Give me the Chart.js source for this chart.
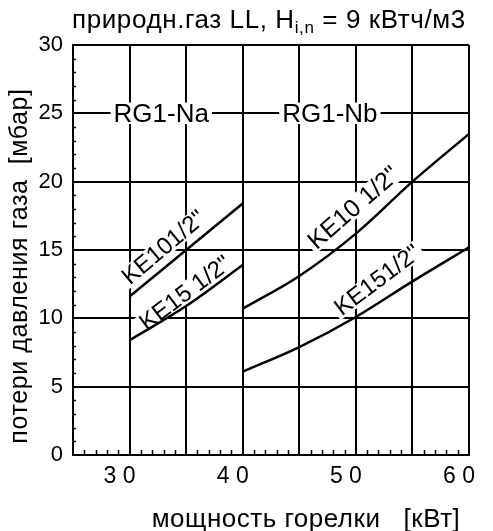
<!DOCTYPE html>
<html>
<head>
<meta charset="utf-8">
<script src="https://cdn.jsdelivr.net/npm/chart.js@4"></script>
<style>
  body { margin: 0; background: #fff; }
  #wrap { width: 493px; height: 531px; }
</style>
</head>
<body>
<div id="wrap"><canvas id="chart" width="493" height="531"></canvas></div>
<script>
// burner power, kW
let xNa = [30, 35, 40];
let xNb = [40, 45, 50, 55, 60];
// gas pressure loss, mbar
let ke10Na = [11.6, 15.0, 18.4];
let ke15Na = [8.4, 10.9, 13.9];
let ke10Nb = [10.7, 13.1, 16.2, 20.0, 23.5];
let ke15Nb = [6.1, 7.9, 10.1, 12.7, 15.2];

let xTicks = [30, 40, 50, 60];
let yTicks = [0, 5, 10, 15, 20, 25, 30];

const FONT = 'Liberation Sans';

// text labels on the plot (data coordinates)
let notes = [
    {text: 'RG1-Na', x: 32.8, y: 25, angle: 0, size: 26},
    {text: 'RG1-Nb', x: 47.7, y: 25, angle: 0, size: 26},
    {text: 'KE101/2"', x: 33.0, y: 15.2, angle: -40, size: 24},
    {text: 'KE15 1/2"', x: 34.9, y: 11.85, angle: -37, size: 24},
    {text: 'KE10 1/2"', x: 49.8, y: 18.1, angle: -41, size: 25},
    {text: 'KE151/2"', x: 51.9, y: 12.8, angle: -37, size: 24}
];

function pts(xs, ys) {
    let out = [];
    for (var i=0; i<xs.length; i++) {
        out.push({x: xs[i], y: ys[i]});
    }
    return out;
}

function curve(xs, ys) {
    return {
        data: pts(xs, ys),
        borderColor: '#000',
        borderWidth: 2.5,
        pointRadius: 0,
        cubicInterpolationMode: 'monotone',
        fill: false
    };
}

const notesPlugin = {
    id: 'notes',
    beforeDatasetsDraw(chart) {
        const ctx = chart.ctx;
        const xs = chart.scales.x, ys = chart.scales.y;
        ctx.save();
        for (const n of notes) {
            const px = xs.getPixelForValue(n.x);
            const py = ys.getPixelForValue(n.y);
            ctx.save();
            ctx.translate(px, py);
            ctx.rotate(n.angle * Math.PI / 180);
            ctx.font = n.size + 'px "' + FONT + '"';
            const w = ctx.measureText(n.text).width;
            const h = n.size * 0.75;
            ctx.fillStyle = '#fff';
            ctx.fillRect(-w/2 - 3, -h/2 - 1, w + 6, h + 2);
            ctx.fillStyle = '#000';
            ctx.textAlign = 'center';
            ctx.textBaseline = 'middle';
            ctx.fillText(n.text, 0, 1);
            ctx.restore();
        }
        ctx.restore();
    }
};

const decorPlugin = {
    id: 'decor',
    afterDraw(chart) {
        const ctx = chart.ctx;
        const a = chart.chartArea;
        const xs = chart.scales.x, ys = chart.scales.y;
        ctx.save();
        // minor ticks
        ctx.strokeStyle = '#000';
        ctx.lineWidth = 1.5;
        ctx.beginPath();
        for (var v=26; v<60; v++) {
            if (v % 5 === 0) continue;
            const p = Math.round(xs.getPixelForValue(v)) + 0.5;
            ctx.moveTo(p, a.bottom);
            ctx.lineTo(p, a.bottom - 5);
        }
        for (var v=1; v<30; v++) {
            if (v % 5 === 0) continue;
            const p = Math.round(ys.getPixelForValue(v)) + 0.5;
            ctx.moveTo(a.left, p);
            ctx.lineTo(a.left + 3, p);
        }
        ctx.stroke();

        ctx.fillStyle = '#000';
        // title with subscript
        const big = '26px "' + FONT + '"';
        const small = '17px "' + FONT + '"';
        const p1 = 'природн.газ LL, H', p2 = 'i,n', p3 = ' = 9 кВтч/м3';
        ctx.letterSpacing = '0.6px';
        ctx.font = big;
        const w1 = ctx.measureText(p1).width;
        ctx.font = small;
        const w2 = ctx.measureText(p2).width;
        let x0 = 72;
        const base = 28;
        ctx.textBaseline = 'alphabetic';
        ctx.textAlign = 'left';
        ctx.font = big;
        ctx.fillText(p1, x0, base);
        ctx.font = small;
        ctx.fillText(p2, x0 + w1, base + 5);
        ctx.font = big;
        ctx.fillText(p3, x0 + w1 + w2, base);

        // x axis title
        ctx.letterSpacing = '0.5px';
        ctx.font = '26px "' + FONT + '"';
        ctx.textAlign = 'center';
        ctx.textBaseline = 'alphabetic';
        ctx.fillText('мощность горелки   [кВт]', 306, 527);

        // y axis title
        ctx.letterSpacing = '0.6px';
        ctx.font = '25px "' + FONT + '"';
        ctx.textBaseline = 'middle';
        ctx.translate(20, 266);
        ctx.rotate(-Math.PI / 2);
        ctx.fillText('потери давления газа  [мбар]', 0, 0);
        ctx.restore();
    }
};

function initChart() {
    const ctx = document.getElementById('chart').getContext('2d');
    return new Chart(ctx, {
        type: 'line',
        data: {
            datasets: [
                curve(xNa, ke10Na),
                curve(xNa, ke15Na),
                curve(xNb, ke10Nb),
                curve(xNb, ke15Nb)
            ]
        },
        options: {
            responsive: false,
            animation: false,
            layout: {padding: {top: 45, right: 8, left: 0, bottom: 0}},
            plugins: {
                legend: {display: false},
                title: {display: false},
                tooltip: {enabled: false}
            },
            scales: {
                x: {
                    type: 'linear',
                    min: 25,
                    max: 60,
                    afterFit: s => { s.height = 76; },
                    afterBuildTicks: s => {
                        let t = [];
                        for (var v=25; v<=60; v+=5) t.push({value: v});
                        s.ticks = t;
                    },
                    ticks: {
                        autoSkip: false,
                        maxRotation: 0,
                        padding: 8,
                        labelOffset: -10,
                        color: '#000',
                        font: {family: FONT, size: 23},
                        callback: v => xTicks.includes(v) ? String(v).split('').join(' ') : ''
                    },
                    grid: {color: '#000', lineWidth: 2, drawTicks: false},
                    border: {color: '#000', width: 2}
                },
                y: {
                    min: 0,
                    max: 30,
                    afterFit: s => { s.width = 73; },
                    afterBuildTicks: s => {
                        s.ticks = yTicks.map(v => ({value: v}));
                    },
                    ticks: {
                        padding: 10,
                        color: '#000',
                        font: {family: FONT, size: 22}
                    },
                    grid: {color: '#000', lineWidth: 2, drawTicks: false},
                    border: {color: '#000', width: 2}
                }
            }
        },
        plugins: [notesPlugin, decorPlugin]
    });
}

initChart();
</script>
</body>
</html>
